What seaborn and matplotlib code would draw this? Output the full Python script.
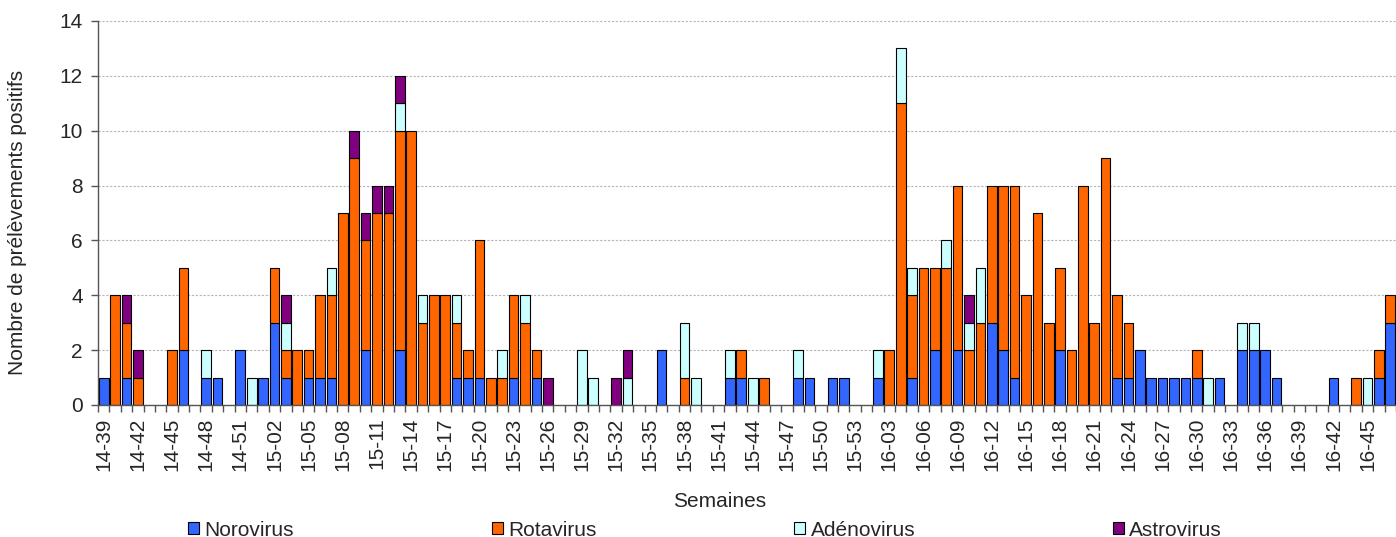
import numpy as np
import pandas as pd
import matplotlib
matplotlib.use("Agg")
import matplotlib.pyplot as plt
import seaborn as sns
from matplotlib.patches import Patch

# ---------------- data ----------------
weeks = ([f"14-{w:02d}" for w in range(39, 53)]
         + [f"15-{w:02d}" for w in range(1, 54)]
         + [f"16-{w:02d}" for w in range(1, 48)])

noro_14 = [1, 0, 1, 0, 0, 0, 0, 2, 0, 1, 1, 0, 2, 0]
noro_15 = [1, 3, 1, 0, 1, 1, 1, 0, 0, 2,
           0, 0, 2, 0, 0, 0, 0, 1, 1, 1,
           0, 0, 1, 0, 1, 0, 0, 0, 0, 0,
           0, 0, 0, 0, 0, 2, 0, 0, 0, 0,
           0, 1, 1, 0, 0, 0, 0, 1, 1, 0,
           1, 1, 0]
noro_16 = [0, 1, 0, 0, 1, 0, 2, 0, 2, 0,
           0, 3, 2, 1, 0, 0, 0, 2, 0, 0,
           0, 0, 1, 1, 2, 1, 1, 1, 1, 1,
           0, 1, 0, 2, 2, 2, 1, 0, 0, 0,
           0, 1, 0, 0, 0, 1, 3]

rota_14 = [0, 4, 2, 1, 0, 0, 2, 3, 0, 0, 0, 0, 0, 0]
rota_15 = [0, 2, 1, 2, 1, 3, 3, 7, 9, 4,
           7, 7, 8, 10, 3, 4, 4, 2, 1, 5,
           1, 1, 3, 3, 1, 0, 0, 0, 0, 0,
           0, 0, 0, 0, 0, 0, 0, 1, 0, 0,
           0, 0, 1, 0, 1, 0, 0, 0, 0, 0,
           0, 0, 0]
rota_16 = [0, 0, 2, 11, 3, 5, 3, 5, 6, 2,
           3, 5, 6, 7, 4, 7, 3, 3, 2, 8,
           3, 9, 3, 2, 0, 0, 0, 0, 0, 1,
           0, 0, 0, 0, 0, 0, 0, 0, 0, 0,
           0, 0, 0, 1, 0, 1, 1]

adeno_14 = [0, 0, 0, 0, 0, 0, 0, 0, 0, 1, 0, 0, 0, 1]
adeno_15 = [0, 0, 1, 0, 0, 0, 1, 0, 0, 0,
            0, 0, 1, 0, 1, 0, 0, 1, 0, 0,
            0, 1, 0, 1, 0, 0, 0, 0, 2, 1,
            0, 0, 1, 0, 0, 0, 0, 2, 1, 0,
            0, 1, 0, 1, 0, 0, 0, 1, 0, 0,
            0, 0, 0]
adeno_16 = [0, 1, 0, 2, 1, 0, 0, 1, 0, 1,
            2, 0, 0, 0, 0, 0, 0, 0, 0, 0,
            0, 0, 0, 0, 0, 0, 0, 0, 0, 0,
            1, 0, 0, 1, 1, 0, 0, 0, 0, 0,
            0, 0, 0, 0, 1, 0, 0]

astro_14 = [0, 0, 1, 1, 0, 0, 0, 0, 0, 0, 0, 0, 0, 0]
astro_15 = [0, 0, 1, 0, 0, 0, 0, 0, 1, 1,
            1, 1, 1, 0, 0, 0, 0, 0, 0, 0,
            0, 0, 0, 0, 0, 1, 0, 0, 0, 0,
            0, 1, 1, 0, 0, 0, 0, 0, 0, 0,
            0, 0, 0, 0, 0, 0, 0, 0, 0, 0,
            0, 0, 0]
astro_16 = [0, 0, 0, 0, 0, 0, 0, 0, 0, 1,
            0, 0, 0, 0, 0, 0, 0, 0, 0, 0,
            0, 0, 0, 0, 0, 0, 0, 0, 0, 0,
            0, 0, 0, 0, 0, 0, 0, 0, 0, 0,
            0, 0, 0, 0, 0, 0, 0]

norovirus = noro_14 + noro_15 + noro_16
rotavirus = rota_14 + rota_15 + rota_16
adenovirus = adeno_14 + adeno_15 + adeno_16
astrovirus = astro_14 + astro_15 + astro_16

series_names = ["Norovirus", "Rotavirus", "Adénovirus", "Astrovirus"]
series_values = [norovirus, rotavirus, adenovirus, astrovirus]
colors = ["#3366FF", "#FF6600", "#CCFFFF", "#800080"]

for v in series_values:
    assert len(v) == len(weeks), (len(v), len(weeks))

# long-form table
rows = []
for name, vals in zip(series_names, series_values):
    for i, c in enumerate(vals):
        rows.append({"idx": i, "virus": name, "count": c})
df = pd.DataFrame(rows)

# ---------------- figure ----------------
sns.set_style("white")
plt.rcParams["font.family"] = ["Liberation Sans", "DejaVu Sans"]
FS = 15

W, H = 1396, 537
fig = plt.figure(figsize=(W / 100, H / 100), dpi=100)
ax = fig.add_axes([98 / W, 132 / H, (W - 98) / W, 384 / H])

palette = dict(zip(series_names, colors))
sns.histplot(data=df, x="idx", weights="count", hue="virus",
             hue_order=series_names[::-1], multiple="stack",
             discrete=True, shrink=0.85, palette=palette,
             edgecolor="black", linewidth=0.8, alpha=1,
             legend=False, ax=ax)

for p in ax.patches:
    if p.get_height() == 0:
        p.set_visible(False)

ax.set_xlim(-0.5, 113.0)
ax.set_ylim(0, 14)
ax.set_yticks(np.arange(0, 15, 2))
ax.set_xticks(np.arange(0, len(weeks), 3))
ax.set_xticklabels(weeks[::3], rotation=90, fontsize=FS)
ax.set_xticks(np.arange(-0.5, len(weeks), 1), minor=True)
ax.tick_params(axis="x", which="major", length=0, pad=9)
ax.tick_params(axis="x", which="minor", length=5, width=1, color="#555555",
               direction="out", bottom=True)
ax.tick_params(axis="y", which="major", length=5, width=1, color="#555555",
               direction="out", left=True, labelsize=FS, pad=6)

ax.set_xlabel("")
ax.set_ylabel("")
ax.yaxis.grid(True, color="#b5b5b5", linestyle=(0, (2, 1.5)), linewidth=0.8)
ax.xaxis.grid(False)
ax.set_axisbelow(True)
for s in ["top", "right"]:
    ax.spines[s].set_visible(False)
for s in ["left", "bottom"]:
    ax.spines[s].set_color("#555555")
    ax.spines[s].set_linewidth(1)

fig.text(18 / W, 1 - 222 / H, "Nombre de prélèvements positifs",
         rotation=90, ha="center", va="center", fontsize=FS)
fig.text(720 / W, 30 / H, "Semaines", ha="center", va="baseline", fontsize=FS)

handles = [Patch(facecolor=c, edgecolor="black", linewidth=0.8) for c in colors]
fig.legend(handles, series_names, loc="center", ncol=4, mode="expand",
           bbox_to_anchor=(188 / W, -3 / H, (1222 - 188) / W, 20 / H),
           frameon=False, fontsize=FS, handlelength=0.55, handleheight=0.55,
           handletextpad=0.25, borderpad=0, borderaxespad=0)

fig.savefig("out.png", dpi=100)
